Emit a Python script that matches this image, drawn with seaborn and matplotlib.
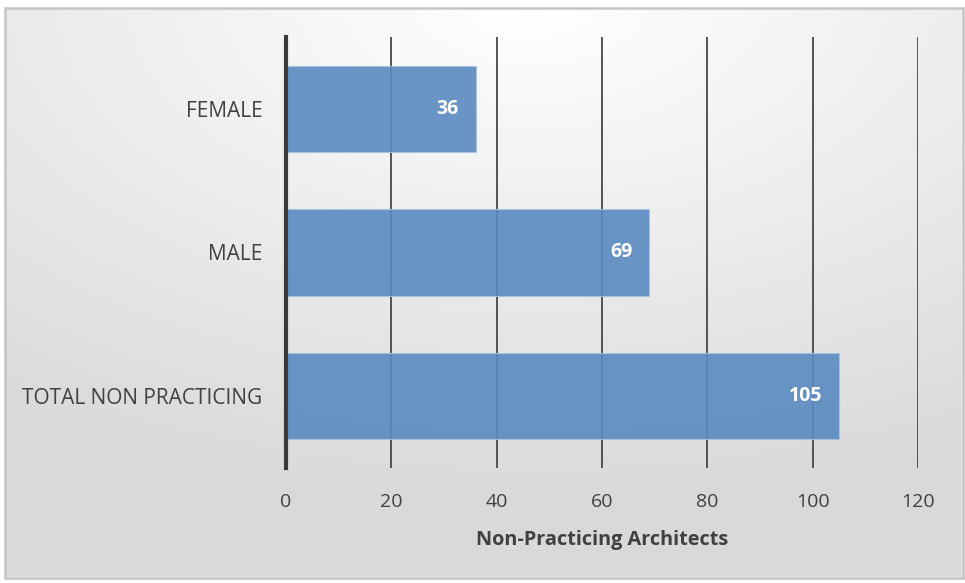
import matplotlib.pyplot as plt
import seaborn as sns
import numpy as np
import pandas as pd
from matplotlib.patches import Rectangle

categories = ["FEMALE", "MALE", "TOTAL NON PRACTICING"]
values = [36, 69, 105]
x_ticks = [0, 20, 40, 60, 80, 100, 120]
x_label = "Non-Practicing Architects"

BAR = "#598AC1"
TEXT = "#404040"

sns.set_theme(style="white")
plt.rcParams["font.family"] = ["Open Sans", "DejaVu Sans"]

df = pd.DataFrame({"category": categories, "value": values})

fig = plt.figure(figsize=(9.65, 5.83), dpi=100)

# soft grey gradient background, lightest near the top middle
bg = fig.add_axes([0, 0, 1, 1], zorder=-10)
yy, xx = np.mgrid[0:1:300j, 0:1:500j]
dist = np.sqrt(((xx - 0.55) * 1.0) ** 2 + ((yy - 0.0) * 1.1) ** 2)
shade = 1.0 - 0.15 * np.clip(dist / 0.95, 0, 1)
bg.imshow(shade, cmap="gray", vmin=0, vmax=1, extent=[0, 1, 0, 1],
          aspect="auto", origin="upper")
bg.set_xlim(0, 1)
bg.set_ylim(0, 1)
bg.axis("off")
# white outer margin and thin grey frame
for (x0, y0, w, h) in [(0, 0, 1, 0.01), (0, 0.99, 1, 0.01), (0, 0, 0.005, 1), (0.997, 0, 0.003, 1)]:
    bg.add_patch(Rectangle((x0, y0), w, h, color="white", zorder=2))
bg.add_patch(Rectangle((0.005, 0.008), 0.993, 0.979, fill=False,
                       edgecolor="#c4c4c4", linewidth=1.8, zorder=3))

ax = fig.add_axes([0.2964, 0.1973, 0.6549, 0.7393])
ax.patch.set_alpha(0)

sns.barplot(data=df, x="value", y="category", orient="h", color=BAR,
            width=0.6, alpha=0.9, edgecolor="#a9c2e0", linewidth=0.8,
            saturation=1, ax=ax, zorder=3)

ax.set_xlim(0, 120)
ax.set_ylim(2.5, -0.5)
ax.set_xticks(x_ticks)
ax.xaxis.grid(True, color="#474747", linewidth=1.3, zorder=1)
ax.set_axisbelow(True)

for s in ["top", "right", "bottom"]:
    ax.spines[s].set_visible(False)
ax.spines["left"].set_color("#3a3a3a")
ax.spines["left"].set_linewidth(3)
ax.spines["left"].set_zorder(5)

ax.tick_params(axis="both", length=0, colors=TEXT)
ax.tick_params(axis="x", pad=18, labelsize=14)
ax.tick_params(axis="y", pad=17, labelsize=15)
ax.set_ylabel("")
ax.set_xlabel(x_label, fontsize=14.3, fontweight="bold", color=TEXT, labelpad=14)

for bar, val in zip(ax.patches, values):
    ax.annotate(f"{val}", (bar.get_x() + bar.get_width(), bar.get_y() + bar.get_height() / 2),
                xytext=(-12, 0), textcoords="offset points", ha="right", va="center",
                color="white", fontsize=14, fontweight="bold", zorder=6)

fig.savefig("out.png", dpi=100)
